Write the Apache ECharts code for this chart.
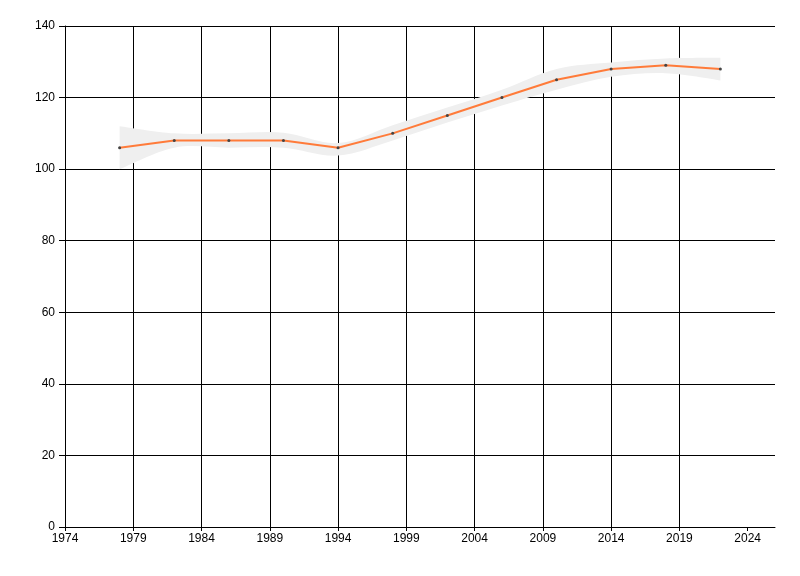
<!DOCTYPE html>
<html>
<head>
<meta charset="utf-8">
<script src="https://cdn.jsdelivr.net/npm/echarts@6/dist/echarts.min.js"></script>
<style>
html, body { margin: 0; padding: 0; background: #fff; }
#chart1 { width: 800px; height: 576px; }
</style>
</head>
<body>
<div id="chart1"></div>
<script>
// years and values
var yearList = [1978, 1982, 1986, 1990, 1994, 1998, 2002, 2006, 2010, 2014, 2018, 2022];
var valueList = [106, 108, 108, 108, 106, 110, 115, 120, 125, 128, 129, 128];
// grey band round the line
var lowerList = [100, 106, 106, 106, 103.8, 108, 113, 117.8, 122.2, 125.8, 126.8, 124.8];
var upperList = [112, 110, 110, 110.2, 107.3, 112.3, 117.2, 122.2, 128, 129.8, 130.9, 131.1];
var xTicks = [1974, 1979, 1984, 1989, 1994, 1999, 2004, 2009, 2014, 2019, 2024];

// catmull-rom curve through pixel points, as svg path commands
function curvePath(pts, first) {
	var d = first ? 'M' + pts[0][0] + ' ' + pts[0][1] : 'L' + pts[0][0] + ' ' + pts[0][1];
	for (var i = 0; i < pts.length - 1; i++) {
		var p0 = pts[i > 0 ? i - 1 : 0];
		var p1 = pts[i];
		var p2 = pts[i + 1];
		var p3 = pts[i + 2 < pts.length ? i + 2 : pts.length - 1];
		var c1x = p1[0] + (p2[0] - p0[0]) / 6;
		var c1y = p1[1] + (p2[1] - p0[1]) / 6;
		var c2x = p2[0] - (p3[0] - p1[0]) / 6;
		var c2y = p2[1] - (p3[1] - p1[1]) / 6;
		d += ' C' + c1x + ' ' + c1y + ' ' + c2x + ' ' + c2y + ' ' + p2[0] + ' ' + p2[1];
	}
	return d;
}

var Chart1 = function() {
	var lineData = [];
	var bandData = [];
	for (var i = 0; i < yearList.length; i++) {
		lineData.push([yearList[i], valueList[i]]);
		bandData.push([yearList[i], lowerList[i], upperList[i]]);
	}

	var labelFont = {
		color: '#000',
		fontFamily: 'Liberation Sans',
		fontSize: 12
	};

	var renderBand = function(params, api) {
		if (params.dataIndex !== 0) {
			return;
		}
		var top = [];
		var bottom = [];
		for (var j = 0; j < bandData.length; j++) {
			top.push(api.coord([bandData[j][0], bandData[j][2]]));
			bottom.unshift(api.coord([bandData[j][0], bandData[j][1]]));
		}
		var d = curvePath(top, true) + ' ' + curvePath(bottom, false) + ' Z';
		return {
			type: 'path',
			shape: { pathData: d },
			style: { fill: '#efefef', stroke: null },
			silent: true
		};
	};

	this.getOption = function() {
		return {
			animation: false,
			grid: { left: 65, right: 25, top: 26, bottom: 49 },
			xAxis: [{
				type: 'value',
				min: 1974,
				max: 2026,
				interval: 5,
				axisLine: { show: true, lineStyle: { color: '#000', width: 1 } },
				axisTick: { show: true, length: 4, customValues: xTicks, lineStyle: { color: '#000' } },
				axisLabel: {
					customValues: xTicks,
					margin: 6,
					color: labelFont.color,
					fontFamily: labelFont.fontFamily,
					fontSize: labelFont.fontSize,
					formatter: function(v) { return String(v); }
				},
				splitLine: { show: true, showMinLine: false, showMaxLine: false, lineStyle: { color: '#000', width: 1 } }
			}],
			yAxis: [{
				type: 'value',
				min: 0,
				max: 140,
				interval: 20,
				axisLine: { show: true, lineStyle: { color: '#000', width: 1 } },
				axisTick: { show: true, length: 6, lineStyle: { color: '#000' } },
				axisLabel: {
					margin: 10,
					color: labelFont.color,
					fontFamily: labelFont.fontFamily,
					fontSize: labelFont.fontSize
				},
				splitLine: { show: true, lineStyle: { color: '#000', width: 1 } }
			}],
			series: [{
				name: 'band',
				type: 'custom',
				data: bandData,
				encode: { x: 0, y: [1, 2] },
				renderItem: renderBand,
				silent: true,
				z: 1
			}, {
				name: 'value',
				type: 'line',
				data: lineData,
				symbol: 'circle',
				symbolSize: 3,
				itemStyle: { color: '#444' },
				lineStyle: { color: '#ff7b3a', width: 2 },
				z: 5
			}]
		};
	};

	this.chart = echarts.init(document.getElementById("chart1"));
	this.chart.setOption(this.getOption());
};

var chart1 = new Chart1();
</script>
</body>
</html>
